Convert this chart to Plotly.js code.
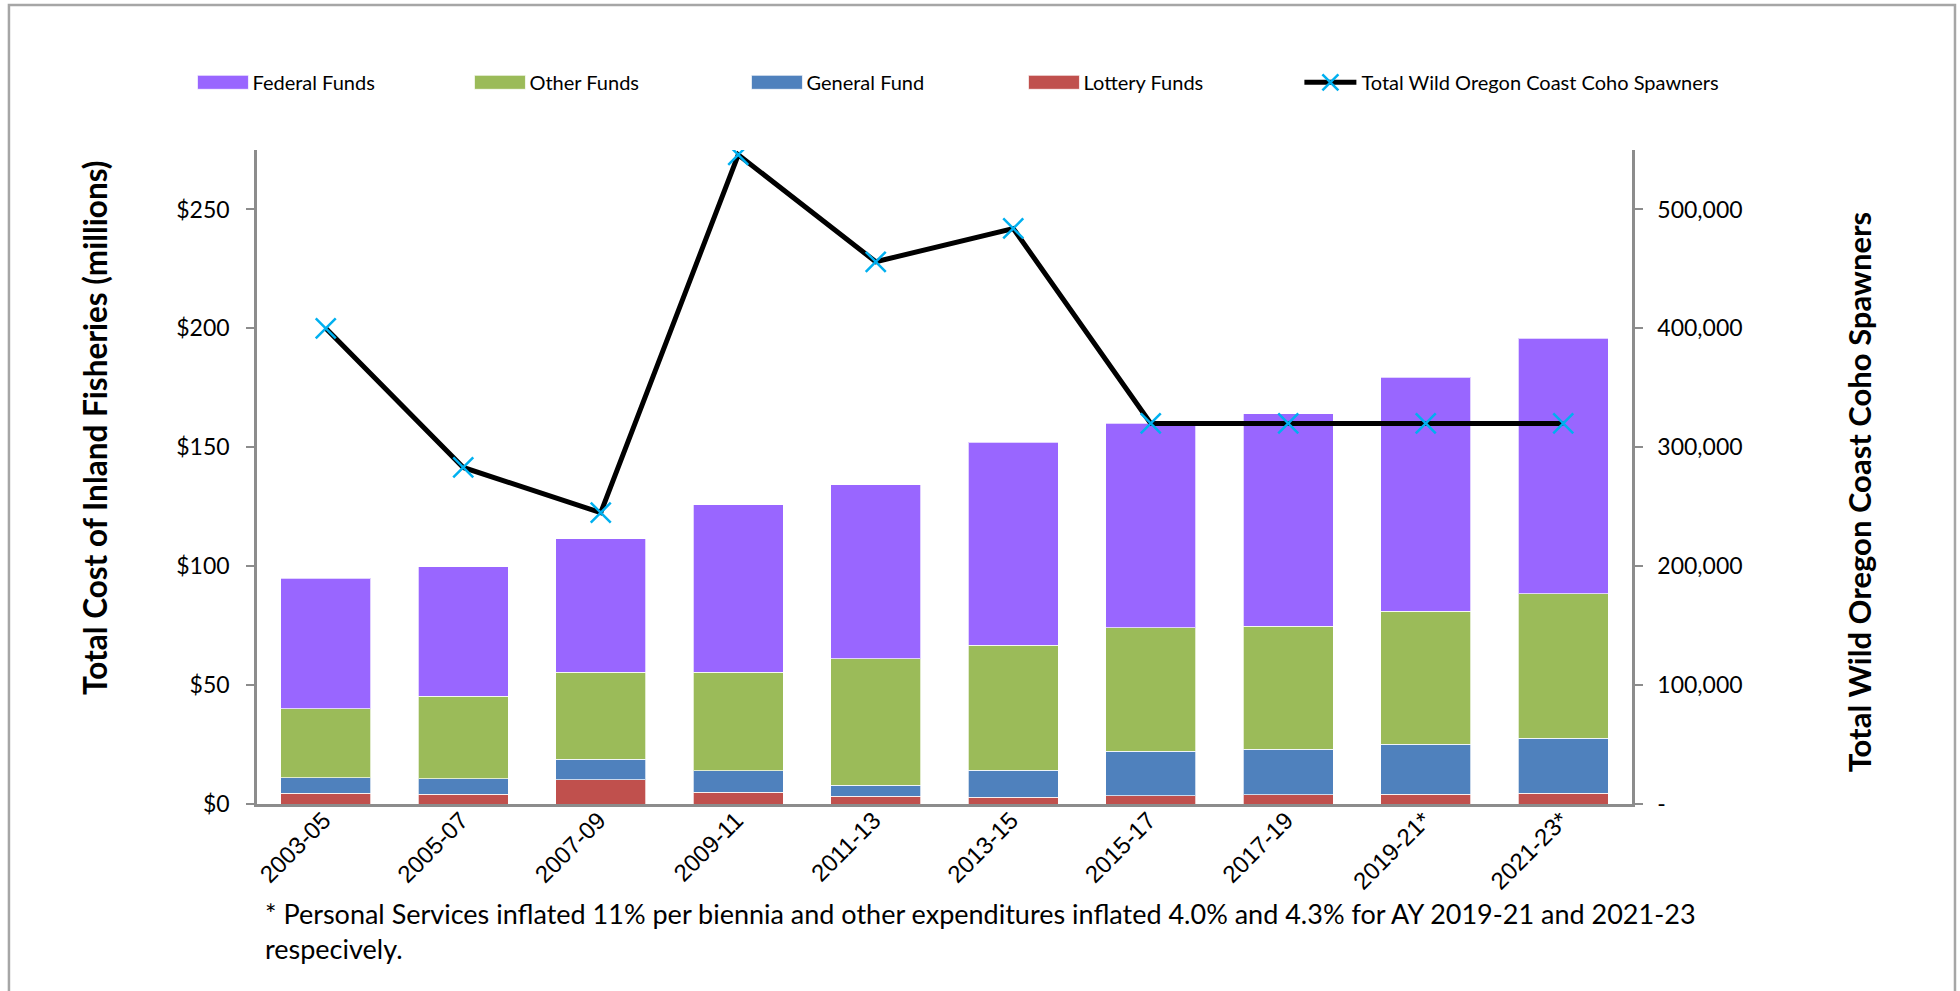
<!DOCTYPE html>
<html>
<head>
<meta charset="utf-8">
<script src="https://cdn.plot.ly/plotly-3.0.1.min.js"></script>
<style>
html,body{margin:0;padding:0;background:#ffffff;}
#chart{width:1960px;height:991px;}
</style>
</head>
<body>
<div id="chart"></div>
<script>
// ---- data ----
const categories = ['2003-05','2005-07','2007-09','2009-11','2011-13','2013-15','2015-17','2017-19','2019-21*','2021-23*'];
const lotteryFunds = [4.5, 4.1, 10.2, 4.9, 3.2, 2.8, 3.4, 3.8, 4.2, 4.6];
const generalFund  = [6.6, 6.6, 8.6, 9.0, 4.7, 11.4, 18.8, 19.2, 20.9, 23.0];
const otherFunds   = [29.0, 34.6, 36.5, 41.4, 53.2, 52.6, 52.0, 51.7, 56.0, 60.8];
const federalFunds = [54.8, 54.5, 56.3, 70.5, 73.1, 85.3, 85.8, 89.5, 98.4, 107.4];
const cohoSpawners = [400000, 283000, 245000, 546000, 456000, 484000, 320000, 320000, 320000, 320000];

const leftTickVals  = [0, 50, 100, 150, 200, 250];
const leftTickText  = ['$0', '$50', '$100', '$150', '$200', '$250'];
const rightTickVals = [0, 100000, 200000, 300000, 400000, 500000];
const rightTickText = ['-', '100,000', '200,000', '300,000', '400,000', '500,000'];

const leftTitle  = 'Total Cost of Inland Fisheries (millions)';
const rightTitle = 'Total Wild Oregon Coast Coho Spawners';
const footnoteText = '* Personal Services inflated 11% per biennia and other expenditures inflated 4.0% and 4.3% for AY 2019-21 and 2021-23<br>respecively.';

// ---- styling ----
const FONT = 'Lato, Carlito, Calibri, "Open Sans", sans-serif';
const AXIS_GREY = '#8c8c8c';
const segLine = {color: 'rgba(255,255,255,0.7)', width: 1};
const pad = n => '&nbsp;'.repeat(n);

const traces = [
  {type: 'bar', name: 'Lottery Funds', x: categories, y: lotteryFunds,
   marker: {color: '#C0504D', line: segLine}, legendrank: 4, hoverinfo: 'name+y'},
  {type: 'bar', name: 'General Fund', x: categories, y: generalFund,
   marker: {color: '#4F81BD', line: segLine}, legendrank: 3, hoverinfo: 'name+y'},
  {type: 'bar', name: 'Other Funds', x: categories, y: otherFunds,
   marker: {color: '#9BBB59', line: segLine}, legendrank: 2, hoverinfo: 'name+y'},
  {type: 'bar', name: 'Federal Funds', x: categories, y: federalFunds,
   marker: {color: '#9966FF', line: segLine}, legendrank: 1, hoverinfo: 'name+y'},
  {type: 'scatter', mode: 'lines+markers', name: 'Total Wild Oregon Coast Coho Spawners',
   x: categories, y: cohoSpawners, yaxis: 'y2', legend: 'legend2',
   line: {color: '#000000', width: 5},
   marker: {symbol: 'x-thin-open', size: 20, color: '#00B0F0', line: {color: '#00B0F0', width: 2.5}}}
];

const legendCommon = {
  orientation: 'h', yref: 'paper', y: 1.1035, yanchor: 'middle', xanchor: 'left',
  font: {family: FONT, size: 20, color: '#000000'},
  traceorder: 'normal', bgcolor: 'rgba(0,0,0,0)'
};

const layout = {
  width: 1960, height: 991,
  margin: {l: 257, r: 328, t: 150, b: 187, pad: 0},
  paper_bgcolor: '#ffffff', plot_bgcolor: '#ffffff',
  font: {family: FONT, color: '#000000', size: 23},
  barmode: 'stack',
  bargap: 0.345,
  showlegend: true,
  legend: Object.assign({}, legendCommon, {
    x: -0.0513, entrywidth: 206, entrywidthmode: 'pixels', itemwidth: 56
  }),
  legend2: Object.assign({}, legendCommon, {
    x: 0.7581, itemwidth: 52
  }),
  xaxis: {
    type: 'category', range: [-0.5, 9.5], autorange: false,
    showline: true, linecolor: AXIS_GREY, linewidth: 2.5,
    ticks: '', showgrid: false, zeroline: false,
    tickangle: -45,
    tickfont: {family: '"Liberation Sans", Arial, sans-serif', size: 24, color: '#000000'},
    ticklabelstandoff: -10,
    ticklabelshift: -2
  },
  yaxis: {
    range: [0, 275], autorange: false, showgrid: false, zeroline: false,
    showline: true, linecolor: AXIS_GREY, linewidth: 2.5,
    ticks: 'outside', ticklen: 8, tickwidth: 2, tickcolor: AXIS_GREY,
    tickvals: leftTickVals, ticktext: leftTickText,
    tickfont: {family: FONT, size: 23, color: '#000000'},
    ticklabelstandoff: 12,
    title: {text: pad(13) + leftTitle, standoff: 60,
            font: {family: FONT, size: 31.5, color: '#000000', weight: 'bold'}},
    automargin: false
  },
  yaxis2: {
    overlaying: 'y', side: 'right', anchor: 'x',
    range: [0, 550000], autorange: false, showgrid: false, zeroline: false,
    showline: true, linecolor: AXIS_GREY, linewidth: 2.5,
    ticks: 'outside', ticklen: 8, tickwidth: 2, tickcolor: AXIS_GREY,
    tickvals: rightTickVals, ticktext: rightTickText,
    tickfont: {family: FONT, size: 23, color: '#000000'},
    ticklabelstandoff: 10,
    title: {text: rightTitle + pad(4), standoff: 108,
            font: {family: FONT, size: 31, color: '#000000', weight: 'bold'}},
    automargin: false
  },
  yaxis3: {
    overlaying: 'y', side: 'left', anchor: 'x', range: [0, 275], autorange: false,
    showgrid: false, zeroline: false, showline: false, showticklabels: false,
    ticks: 'inside', ticklen: 8, tickwidth: 2, tickcolor: AXIS_GREY,
    tickvals: leftTickVals
  },
  yaxis4: {
    overlaying: 'y', side: 'right', anchor: 'x', range: [0, 550000], autorange: false,
    showgrid: false, zeroline: false, showline: false, showticklabels: false,
    ticks: 'inside', ticklen: 8, tickwidth: 2, tickcolor: AXIS_GREY,
    tickvals: rightTickVals
  },
  annotations: [{
    xref: 'paper', yref: 'paper', x: 0.0045, y: -0.1942,
    xanchor: 'left', yanchor: 'middle', align: 'left', showarrow: false,
    text: footnoteText,
    font: {family: FONT, size: 27, color: '#000000'}
  }],
  shapes: [{
    type: 'rect', xref: 'paper', yref: 'paper',
    x0: -0.1804, x1: 1.2349, y0: -0.30, y1: 1.2217,
    line: {color: '#a6a6a6', width: 2.5}, fillcolor: 'rgba(0,0,0,0)', layer: 'below'
  }]
};

function widenSwatches() {
  document.querySelectorAll('g.legendpoints path').forEach(function(p) {
    var cls = p.getAttribute('class') || '';
    var d = p.getAttribute('d') || '';
    if (cls.indexOf('legendbar') !== -1 || d === 'M6,6H-6V-6H6Z') {
      p.setAttribute('d', 'M-22,-7H29V7H-22Z');
    }
  });
}

Plotly.newPlot('chart', traces, layout, {displayModeBar: false, responsive: false}).then(function(gd) {
  widenSwatches();
  gd.on('plotly_afterplot', widenSwatches);
  setTimeout(widenSwatches, 0);
  setTimeout(widenSwatches, 200);
});
</script>
</body>
</html>
